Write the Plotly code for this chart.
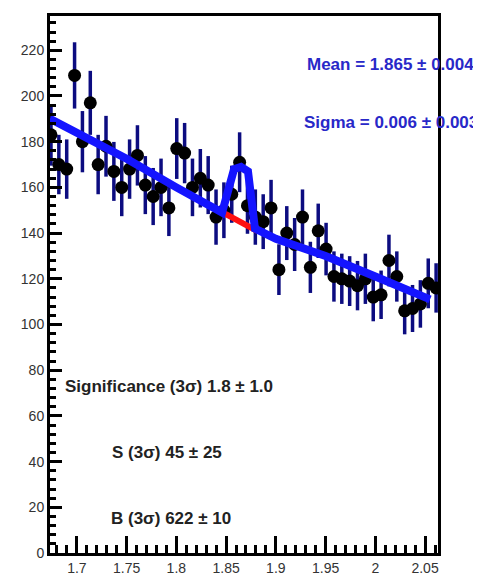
import plotly.graph_objects as go

# ---- data ----
bin_centers = [1.6740, 1.6819, 1.6898, 1.6977, 1.7056, 1.7135, 1.7214, 1.7293, 1.7372, 1.7451,
               1.7530, 1.7609, 1.7688, 1.7767, 1.7846, 1.7925, 1.8004, 1.8083, 1.8162, 1.8241,
               1.8320, 1.8399, 1.8478, 1.8557, 1.8636, 1.8715, 1.8794, 1.8873, 1.8952, 1.9031,
               1.9110, 1.9189, 1.9268, 1.9347, 1.9426, 1.9505, 1.9584, 1.9663, 1.9742, 1.9821,
               1.9900, 1.9979, 2.0058, 2.0137, 2.0216, 2.0295, 2.0374, 2.0453, 2.0532, 2.0611]
counts = [183, 170, 168, 209, 180, 197, 170, 178, 167, 160,
          168, 174, 161, 156, 160, 151, 177, 175, 160, 164,
          161, 147, 150, 157, 171, 152, 147, 145, 151, 124,
          140, 135, 147, 125, 141, 133, 121, 120, 119, 117,
          120, 112, 113, 128, 121, 106, 107, 109, 118, 116]
count_errors = [13.5, 13.0, 13.0, 14.5, 13.4, 14.0, 13.0, 13.3, 12.9, 12.6,
                13.0, 13.2, 12.7, 12.5, 12.6, 12.3, 13.3, 13.2, 12.6, 12.8,
                12.7, 12.1, 12.2, 12.5, 13.1, 12.3, 12.1, 12.0, 12.3, 11.1,
                11.8, 11.6, 12.1, 11.2, 11.9, 11.5, 11.0, 11.0, 10.9, 10.8,
                11.0, 10.6, 10.6, 11.3, 11.0, 10.3, 10.3, 10.4, 10.9, 10.8]

fit_x = [1.673, 1.700, 1.750, 1.800, 1.846, 1.858, 1.865, 1.872, 1.879, 1.900, 1.950, 2.000, 2.055]
fit_y = [190, 184, 172.5, 160, 149, 168, 169, 167, 142, 137.5, 130, 121, 111]

bkg_x = [1.847, 1.865, 1.881]
bkg_y = [149, 145, 141]

x_tick_vals = [1.7, 1.75, 1.8, 1.85, 1.9, 1.95, 2.0, 2.05]
x_tick_text = ["1.7", "1.75", "1.8", "1.85", "1.9", "1.95", "2", "2.05"]
y_tick_vals = [0, 20, 40, 60, 80, 100, 120, 140, 160, 180, 200, 220]

fit_labels = ["Mean = 1.865 \u00b1 0.004", "Sigma = 0.006 \u00b1 0.003"]
fit_label_x = [2.0148, 2.0153]
fit_label_y = [213.9, 188.3]

yield_labels = ["Significance (3\u03c3) 1.8 \u00b1 1.0", "S (3\u03c3) 45 \u00b1 25", "B (3\u03c3) 622 \u00b1 10"]
yield_label_x = [1.7925, 1.7910, 1.7945]
yield_label_y = [73.0, 43.9, 15.2]

FONT = "Liberation Sans, Arial, sans-serif"

fig = go.Figure()

fig.add_trace(go.Scatter(
    x=bin_centers, y=counts, mode="markers",
    marker=dict(color="black", size=13, line=dict(width=0)),
    error_y=dict(type="data", array=count_errors, visible=True,
                 color="#0c0c80", thickness=3.5, width=0),
    showlegend=False, hoverinfo="skip"))

fig.add_trace(go.Scatter(
    x=bkg_x, y=bkg_y, mode="lines",
    line=dict(color="#ff1010", width=6), showlegend=False))

fig.add_trace(go.Scatter(
    x=fit_x, y=fit_y, mode="lines",
    line=dict(color="#1414ff", width=8), showlegend=False))

for txt, xx, yy in zip(fit_labels, fit_label_x, fit_label_y):
    fig.add_annotation(x=xx, y=yy, xref="x", yref="y", text="<b>" + txt + "</b>",
                       showarrow=False, xanchor="center", yanchor="middle",
                       font=dict(family=FONT, size=17, color="#2828c8"))

for txt, xx, yy in zip(yield_labels, yield_label_x, yield_label_y):
    fig.add_annotation(x=xx, y=yy, xref="x", yref="y", text="<b>" + txt + "</b>",
                       showarrow=False, xanchor="center", yanchor="middle",
                       font=dict(family=FONT, size=17, color="#222222"))

axis_common = dict(
    showline=True, linecolor="black", linewidth=3, mirror=True,
    ticks="inside", tickcolor="black", tickwidth=3,
    showgrid=False, zeroline=False,
    tickfont=dict(family=FONT, size=14, color="#333333"),
    layer="above traces",
)

fig.update_xaxes(
    range=[1.673, 2.063], tickvals=x_tick_vals, ticktext=x_tick_text,
    ticklen=17,
    minor=dict(dtick=0.01, tick0=1.7, ticks="inside", ticklen=8, tickwidth=3, tickcolor="black", showgrid=False),
    **axis_common)
fig.update_yaxes(
    range=[0, 235], tickvals=y_tick_vals, ticklen=12,
    minor=dict(dtick=4, tick0=0, ticks="inside", ticklen=6, tickwidth=3, tickcolor="black", showgrid=False),
    **axis_common)

fig.update_layout(
    width=473, height=577,
    margin=dict(l=42, r=43, t=5, b=32),
    paper_bgcolor="white", plot_bgcolor="white",
    showlegend=False,
)

fig.write_html("out.html")
